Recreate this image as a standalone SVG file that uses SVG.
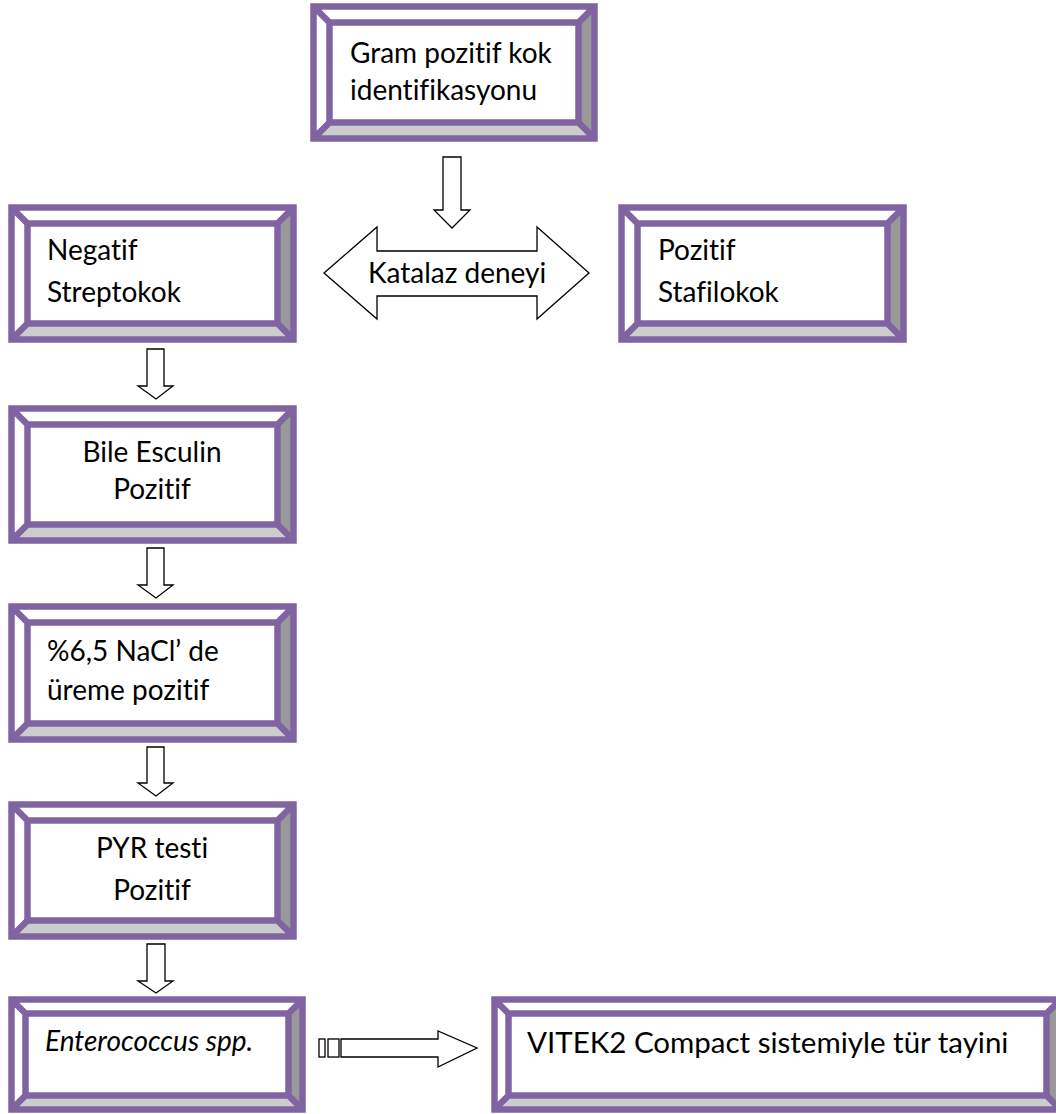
<svg xmlns="http://www.w3.org/2000/svg" width="1056" height="1114" viewBox="0 0 1056 1114">
<style>
.bg{fill:#ffffff}
.bR{fill:#999999}
.bB{fill:#cccccc}
.fr{fill:none;stroke:#8064A2;stroke-width:6.5;stroke-linejoin:miter}
.t{font-family:Lato,"Open Sans","Liberation Sans",sans-serif;font-size:28px;fill:#000000;font-variant-ligatures:none;font-feature-settings:"liga" 0,"clig" 0,"dlig" 0}
.big{font-size:29.5px}
.it{font-style:italic}
.ar{fill:#ffffff;stroke:#000000;stroke-width:1.3;stroke-linejoin:miter}
</style>
<rect x="0" y="0" width="1056" height="1114" fill="#ffffff"/>

<g id="connectors">
  <path class="ar" d="M443 157 H461 V210 H470 L452 228 L434 210 H443 Z"/>
  <path class="ar" d="M147 349 H164 V386 H173 L156 399 L138 386 H147 Z"/>
  <path class="ar" d="M147 548 H164 V585 H173 L156 598 L138 585 H147 Z"/>
  <path class="ar" d="M147 747 H164 V783 H173 L156 796 L138 783 H147 Z"/>
  <path class="ar" d="M147 944 H165 V981 H173 L156 993 L138 981 H147 Z"/>
  <g id="katalaz">
    <path class="ar" d="M324 273 L377 227 V251 H537 V227 L589 273 L537 319 V296 H377 V319 Z"/>
    <text class="t" x="368" y="283">Katalaz deneyi</text>
  </g>
  <rect class="ar" x="319" y="1039" width="6" height="18"/>
  <rect class="ar" x="328" y="1039" width="11" height="18"/>
  <path class="ar" d="M341 1039 H438 V1031 L477 1048 L438 1067 V1057 H341 Z"/>
</g>

<g id="n-gram">
  <rect class="bg" x="313.5" y="6.5" width="281" height="132"/>
  <polygon class="bR" points="594.5,6.5 594.5,138.5 578.5,122.5 578.5,22.5"/>
  <polygon class="bB" points="313.5,138.5 594.5,138.5 578.5,122.5 329.5,122.5"/>
  <path class="fr" d="M313.5 6.5 H594.5 V138.5 H313.5 Z M329.5 22.5 H578.5 V122.5 H329.5 Z M313.5 6.5 L329.5 22.5 M594.5 6.5 L578.5 22.5 M594.5 138.5 L578.5 122.5 M313.5 138.5 L329.5 122.5"/>
  <text class="t" x="350" y="63">Gram pozitif kok</text>
  <text class="t" x="350" y="100">identifikasyonu</text>
</g>

<g id="n-negatif">
  <rect class="bg" x="11.5" y="207.5" width="282" height="132"/>
  <polygon class="bR" points="293.5,207.5 293.5,339.5 277.5,323.5 277.5,223.5"/>
  <polygon class="bB" points="11.5,339.5 293.5,339.5 277.5,323.5 27.5,323.5"/>
  <path class="fr" d="M11.5 207.5 H293.5 V339.5 H11.5 Z M27.5 223.5 H277.5 V323.5 H27.5 Z M11.5 207.5 L27.5 223.5 M293.5 207.5 L277.5 223.5 M293.5 339.5 L277.5 323.5 M11.5 339.5 L27.5 323.5"/>
  <text class="t" x="47" y="260">Negatif</text>
  <text class="t" x="47" y="302">Streptokok</text>
</g>

<g id="n-pozitif">
  <rect class="bg" x="621.5" y="207.5" width="282" height="132"/>
  <polygon class="bR" points="903.5,207.5 903.5,339.5 887.5,323.5 887.5,223.5"/>
  <polygon class="bB" points="621.5,339.5 903.5,339.5 887.5,323.5 637.5,323.5"/>
  <path class="fr" d="M621.5 207.5 H903.5 V339.5 H621.5 Z M637.5 223.5 H887.5 V323.5 H637.5 Z M621.5 207.5 L637.5 223.5 M903.5 207.5 L887.5 223.5 M903.5 339.5 L887.5 323.5 M621.5 339.5 L637.5 323.5"/>
  <text class="t" x="658" y="260">Pozitif</text>
  <text class="t" x="658" y="302">Stafilokok</text>
</g>

<g id="n-bile">
  <rect class="bg" x="11.5" y="408.5" width="282" height="132"/>
  <polygon class="bR" points="293.5,408.5 293.5,540.5 277.5,524.5 277.5,424.5"/>
  <polygon class="bB" points="11.5,540.5 293.5,540.5 277.5,524.5 27.5,524.5"/>
  <path class="fr" d="M11.5 408.5 H293.5 V540.5 H11.5 Z M27.5 424.5 H277.5 V524.5 H27.5 Z M11.5 408.5 L27.5 424.5 M293.5 408.5 L277.5 424.5 M293.5 540.5 L277.5 524.5 M11.5 540.5 L27.5 524.5"/>
  <text class="t" x="152" y="462" text-anchor="middle">Bile Esculin</text>
  <text class="t" x="152" y="499" text-anchor="middle">Pozitif</text>
</g>

<g id="n-nacl">
  <rect class="bg" x="11.5" y="606.5" width="282" height="133"/>
  <polygon class="bR" points="293.5,606.5 293.5,739.5 277.5,723.5 277.5,622.5"/>
  <polygon class="bB" points="11.5,739.5 293.5,739.5 277.5,723.5 27.5,723.5"/>
  <path class="fr" d="M11.5 606.5 H293.5 V739.5 H11.5 Z M27.5 622.5 H277.5 V723.5 H27.5 Z M11.5 606.5 L27.5 622.5 M293.5 606.5 L277.5 622.5 M293.5 739.5 L277.5 723.5 M11.5 739.5 L27.5 723.5"/>
  <text class="t" x="47" y="661">%6,5 NaCl’ de</text>
  <text class="t" x="47" y="700">üreme pozitif</text>
</g>

<g id="n-pyr">
  <rect class="bg" x="11.5" y="804.5" width="282" height="132"/>
  <polygon class="bR" points="293.5,804.5 293.5,936.5 277.5,920.5 277.5,820.5"/>
  <polygon class="bB" points="11.5,936.5 293.5,936.5 277.5,920.5 27.5,920.5"/>
  <path class="fr" d="M11.5 804.5 H293.5 V936.5 H11.5 Z M27.5 820.5 H277.5 V920.5 H27.5 Z M11.5 804.5 L27.5 820.5 M293.5 804.5 L277.5 820.5 M293.5 936.5 L277.5 920.5 M11.5 936.5 L27.5 920.5"/>
  <text class="t" x="152" y="858" text-anchor="middle">PYR testi</text>
  <text class="t" x="152" y="900" text-anchor="middle">Pozitif</text>
</g>

<g id="n-entero">
  <rect class="bg" x="11.5" y="999.5" width="291" height="110"/>
  <polygon class="bR" points="302.5,999.5 302.5,1109.5 288.5,1095.5 288.5,1013.5"/>
  <polygon class="bB" points="11.5,1109.5 302.5,1109.5 288.5,1095.5 25.5,1095.5"/>
  <path class="fr" d="M11.5 999.5 H302.5 V1109.5 H11.5 Z M25.5 1013.5 H288.5 V1095.5 H25.5 Z M11.5 999.5 L25.5 1013.5 M302.5 999.5 L288.5 1013.5 M302.5 1109.5 L288.5 1095.5 M11.5 1109.5 L25.5 1095.5"/>
  <text class="t it" x="45" y="1051">Enterococcus spp.</text>
</g>

<g id="n-vitek">
  <rect class="bg" x="494.5" y="999.5" width="566" height="110"/>
  <polygon class="bR" points="1060.5,999.5 1060.5,1109.5 1046.5,1095.5 1046.5,1013.5"/>
  <polygon class="bB" points="494.5,1109.5 1060.5,1109.5 1046.5,1095.5 508.5,1095.5"/>
  <path class="fr" d="M494.5 999.5 H1060.5 V1109.5 H494.5 Z M508.5 1013.5 H1046.5 V1095.5 H508.5 Z M494.5 999.5 L508.5 1013.5 M1060.5 999.5 L1046.5 1013.5 M1060.5 1109.5 L1046.5 1095.5 M494.5 1109.5 L508.5 1095.5"/>
  <text class="t big" x="527" y="1053">VITEK2 Compact sistemiyle tür tayini</text>
</g>
</svg>
